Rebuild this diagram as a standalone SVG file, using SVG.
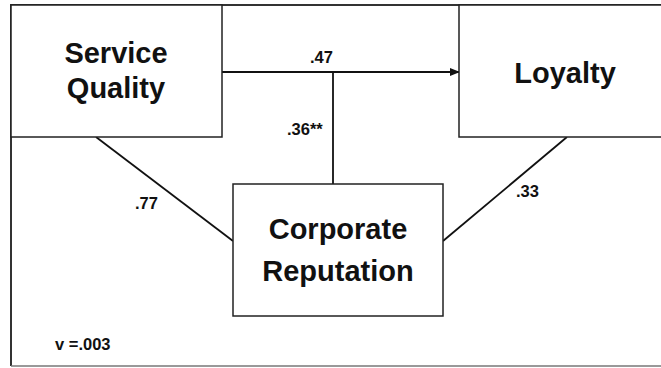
<svg xmlns="http://www.w3.org/2000/svg" width="661" height="368" viewBox="0 0 661 368">
<defs>
<style>
.box{fill:#fff;stroke:#222;stroke-width:1.5}
.big{font-family:"Liberation Sans",Arial,sans-serif;font-weight:bold;font-size:29px;fill:#111;text-anchor:middle}
.lbl{font-family:"Liberation Sans",Arial,sans-serif;font-weight:bold;font-size:16.5px;fill:#111}
.ln{stroke:#111;stroke-width:1.8;fill:none}
</style>
<marker id="ah" markerWidth="10" markerHeight="8" refX="9" refY="4" orient="auto" markerUnits="userSpaceOnUse">
<path d="M0,0 L10,4 L0,8 Z" fill="#111"/>
</marker>
</defs>
<rect x="0" y="0" width="661" height="368" fill="#fff"/>
<path d="M11,366 L11,5 L670,5" fill="none" stroke="#333" stroke-width="2"/>
<path d="M11,366 L670,366" fill="none" stroke="#777" stroke-width="1.5"/>
<g id="connectors">
<line class="ln" x1="222" y1="72" x2="459" y2="72" marker-end="url(#ah)"/>
<line class="ln" x1="333" y1="72" x2="333" y2="184"/>
<line class="ln" x1="96" y1="137" x2="233" y2="241"/>
<line class="ln" x1="567" y1="137" x2="443" y2="241"/>
</g>
<g id="service-quality">
<rect class="box" x="11" y="5" width="211" height="132"/>
<text class="big" x="116" y="63">Service</text>
<text class="big" x="116" y="98">Quality</text>
</g>
<g id="loyalty">
<rect class="box" x="459" y="5" width="220" height="132"/>
<text class="big" x="565" y="83">Loyalty</text>
</g>
<g id="corporate-reputation">
<rect class="box" x="233" y="184" width="210" height="132"/>
<text class="big" x="338" y="239">Corporate</text>
<text class="big" x="338" y="281">Reputation</text>
</g>
<g id="labels">
<text class="lbl" x="310" y="63">.47</text>
<text class="lbl" x="287" y="135">.36**</text>
<text class="lbl" x="135" y="209">.77</text>
<text class="lbl" x="516" y="197">.33</text>
<text class="lbl" x="55" y="350">v =.003</text>
</g>
</svg>
